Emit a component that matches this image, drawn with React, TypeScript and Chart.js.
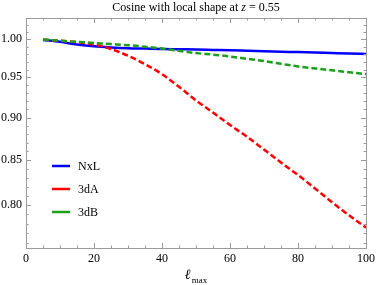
import React, { useEffect, useRef } from 'react';
import { Chart, registerables } from 'chart.js';

Chart.register(...registerables);

const ellMax = [5, 10, 15, 20, 25, 30, 35, 40, 45, 50, 55, 60, 65, 70, 75, 80, 85, 90, 95, 100];
const nxl = [0.999, 0.9965, 0.993, 0.9905, 0.989, 0.988, 0.9875, 0.987, 0.9866, 0.9862, 0.9857, 0.9852, 0.9846, 0.984, 0.9834, 0.9828, 0.9822, 0.9816, 0.981, 0.9803];
const d3A = [0.9995, 0.998, 0.996, 0.993, 0.987, 0.978, 0.967, 0.954, 0.938, 0.921, 0.906, 0.891, 0.877, 0.862, 0.847, 0.833, 0.818, 0.803, 0.789, 0.776];
const d3B = [0.9995, 0.998, 0.9965, 0.995, 0.9935, 0.992, 0.99, 0.9875, 0.9845, 0.9815, 0.9795, 0.977, 0.974, 0.971, 0.9675, 0.964, 0.9615, 0.959, 0.9565, 0.954];
const seriesNames = ['NxL', '3dA', '3dB'];
const seriesColors = ['#0000ff', '#ff0000', '#1ca01c'];
const yTicks = [0.8, 0.85, 0.9, 0.95, 1.0];
const xTickStep = 20;

const SERIF = "'Liberation Serif', 'Times New Roman', serif";
const FRAME = '#9a9a9a';

const decorPlugin = {
  id: 'decor',
  afterDraw(chart: any) {
    const ctx = chart.ctx;
    const { left, right, top, bottom } = chart.chartArea;
    const xs = chart.scales.x;
    const ys = chart.scales.y;
    ctx.save();
    ctx.strokeStyle = FRAME;
    ctx.lineWidth = 1;
    ctx.strokeRect(Math.round(left) + 0.5, Math.round(top) + 0.5, Math.round(right - left), Math.round(bottom - top));
    ctx.beginPath();
    for (let v = 0; v <= 100; v += 5) {
      const px = Math.round(xs.getPixelForValue(v)) + 0.5;
      const len = v % 20 === 0 ? 5 : 2.5;
      ctx.moveTo(px, bottom);
      ctx.lineTo(px, bottom - len);
      ctx.moveTo(px, top);
      ctx.lineTo(px, top + len);
    }
    for (let k = 70; k <= 105; k++) {
      const v = k / 100;
      if (v < ys.min || v > ys.max) continue;
      const py = Math.round(ys.getPixelForValue(v)) + 0.5;
      const len = k % 5 === 0 ? 5 : 2.5;
      ctx.moveTo(left, py);
      ctx.lineTo(left + len, py);
      ctx.moveTo(right, py);
      ctx.lineTo(right - len, py);
    }
    ctx.stroke();

    ctx.fillStyle = '#000';
    ctx.textBaseline = 'alphabetic';
    const f = `12px ${SERIF}`;
    const fi = `italic 12px ${SERIF}`;
    const p1 = 'Cosine with local shape at ';
    const p2 = 'z';
    const p3 = ' = 0.55';
    ctx.font = f;
    const w1 = ctx.measureText(p1).width;
    const w3 = ctx.measureText(p3).width;
    ctx.font = fi;
    const w2 = ctx.measureText(p2).width;
    const cx = (left + right) / 2;
    const x0 = cx - (w1 + w2 + w3) / 2;
    const ty = 11;
    ctx.textAlign = 'left';
    ctx.font = f;
    ctx.fillText(p1, x0, ty);
    ctx.font = fi;
    ctx.fillText(p2, x0 + w1, ty);
    ctx.font = f;
    ctx.fillText(p3, x0 + w1 + w2, ty);

    const l1 = 'ℓ';
    const l2 = 'max';
    ctx.font = `italic 14px ${SERIF}`;
    const lw1 = ctx.measureText(l1).width;
    ctx.font = `9px ${SERIF}`;
    const lw2 = ctx.measureText(l2).width;
    const lx = cx - (lw1 + lw2 + 1) / 2;
    ctx.font = `italic 14px ${SERIF}`;
    ctx.fillText(l1, lx, 279);
    ctx.font = `9px ${SERIF}`;
    ctx.fillText(l2, lx + lw1 + 1, 283);

    ctx.font = `12px ${SERIF}`;
    ctx.textBaseline = 'middle';
    chart.data.datasets.forEach((ds: any, i: number) => {
      const y = 166 + i * 23;
      ctx.strokeStyle = ds.borderColor;
      ctx.lineWidth = 2.5;
      ctx.setLineDash([]);
      ctx.beginPath();
      ctx.moveTo(52, y);
      ctx.lineTo(70, y);
      ctx.stroke();
      ctx.fillStyle = '#000';
      ctx.fillText(ds.label, 78, y + 1);
    });
    ctx.restore();
  },
};

export default function App() {
  const ref = useRef<HTMLCanvasElement | null>(null);
  useEffect(() => {
    if (!ref.current) return;
    const mk = (data: number[], i: number, dashed: boolean) => ({
      label: seriesNames[i],
      data: ellMax.map((x, j) => ({ x, y: data[j] })),
      borderColor: seriesColors[i],
      backgroundColor: seriesColors[i],
      borderWidth: 2.5,
      borderDash: dashed ? [6, 3] : [],
      pointRadius: 0,
      tension: 0.4,
      cubicInterpolationMode: 'monotone' as const,
      fill: false,
      order: 3 - i,
    });
    const chart = new Chart(ref.current, {
      type: 'line',
      data: {
        datasets: [mk(nxl, 0, false), mk(d3A, 1, true), mk(d3B, 2, true)],
      },
      options: {
        animation: false,
        responsive: false,
        devicePixelRatio: 1,
        layout: { padding: { top: 18, right: 9, left: 0, bottom: 0 } },
        plugins: { legend: { display: false }, tooltip: { enabled: false }, title: { display: false } },
        scales: {
          x: {
            type: 'linear',
            min: 0,
            max: 100,
            grid: { display: false, drawTicks: false },
            border: { display: false },
            ticks: { stepSize: xTickStep, padding: 4, color: '#000', font: { family: SERIF, size: 12 }, maxRotation: 0 },
            afterFit: (s: any) => { s.height = 37; },
          },
          y: {
            type: 'logarithmic',
            min: 0.755,
            max: 1.029,
            grid: { display: false, drawTicks: false },
            border: { display: false },
            afterBuildTicks: (s: any) => { s.ticks = yTicks.map((v) => ({ value: v })); },
            ticks: {
              padding: 4,
              color: '#000',
              font: { family: SERIF, size: 12 },
              callback: (v: any) => Number(v).toFixed(2),
            },
            afterFit: (s: any) => { s.width = 26; },
          },
        },
      } as any,
      plugins: [decorPlugin],
    });
    return () => chart.destroy();
  }, []);
  return (
    <div style={{ position: 'absolute', left: 0, top: 0 }}>
      <canvas ref={ref} width={379} height={285} style={{ width: 379, height: 285 }} />
    </div>
  );
}
